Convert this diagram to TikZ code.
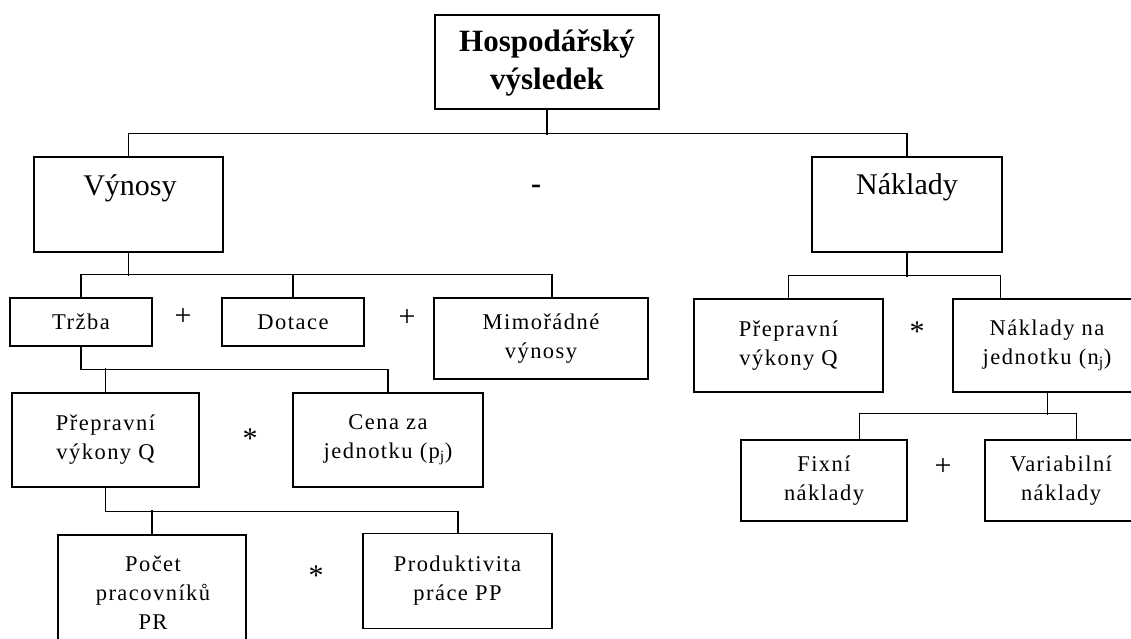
\documentclass[tikz,border=0pt]{standalone}
\usepackage{fontspec}
\setmainfont{Liberation Serif}
\newfontfamily\spacedf[LetterSpace=6.5]{Liberation Serif}
\begin{document}
\begin{tikzpicture}[x=1pt,y=-1pt,
  box/.style={draw=black,line width=1.2pt,inner sep=0pt,align=center,
    font=\spacedf\fontsize{22.5}{29}\selectfont},
  bigtext/.style={inner sep=0pt,font=\fontsize{30}{36}\selectfont},
  titletext/.style={inner sep=0pt,align=center,font=\bfseries\fontsize{31}{38}\selectfont},
  optext/.style={inner sep=0pt,font=\fontsize{30}{36}\selectfont},
  conn/.style={draw=black,line width=1.2pt}]
\clip (0,0) rectangle (1131,639);
\fill[white] (0,0) rectangle (1131,639);

% boxes
\node[box,minimum width=224pt,minimum height=94pt] (top) at (547,62) {};
\node[titletext] (topT) at (547,63) {Hospodářský\\výsledek};
\node[box,minimum width=189pt,minimum height=95pt] (vyn) at (128.5,204.5) {};
\node[bigtext] (vynT) at (130,188) {Výnosy};
\node[box,minimum width=190pt,minimum height=95pt] (nak) at (907,204.5) {};
\node[bigtext] (nakT) at (907,187) {Náklady};

\node[box,minimum width=142pt,minimum height=48pt] (trz) at (81,322) {Tržba};
\node[box,minimum width=142pt,minimum height=48pt] (dot) at (293,322) {Dotace};
\node[box,minimum width=214pt,minimum height=81pt] (mim) at (541,338.5) {Mimořádné\\výnosy};

\node[box,minimum width=187pt,minimum height=94pt] (prepL) at (105.5,440) {Přepravní\\výkony Q};
\node[box,minimum width=190pt,minimum height=94pt] (cena) at (388,440) {Cena za\\jednotku (p\textsubscript{j})};

\node[box,minimum width=188pt,minimum height=125pt] (pocet) at (152,597.5) {};
\node[inner sep=0pt,align=center,font=\spacedf\fontsize{22.5}{29}\selectfont] (pocetT) at (153,593) {Počet\\pracovníků\\PR};
\node[box,minimum width=189pt,minimum height=95pt] (prod) at (457.5,581) {Produktivita\\práce PP};

\node[box,minimum width=189pt,minimum height=93pt] (prepR) at (788.5,345.5) {Přepravní\\výkony Q};
\node[box,minimum width=188pt,minimum height=93pt] (nnj) at (1047,345.5) {Náklady na\\jednotku (n\textsubscript{j})};
\node[box,minimum width=166pt,minimum height=81pt] (fix) at (824,480.5) {Fixní\\náklady};
\node[box,minimum width=152pt,minimum height=81pt] (var) at (1061,480.5) {Variabilní\\náklady};

% operators
\node[optext,font=\bfseries\fontsize{30}{36}\selectfont] (minus) at (536,189) {-};
\node[optext] (plus1) at (183,317) {+};
\node[optext] (plus2) at (407,318) {+};
\node[optext] (star1) at (250,439) {*};
\node[optext] (star2) at (316,576) {*};
\node[optext] (star3) at (917,332) {*};
\node[optext] (plus3) at (943,467) {+};

% connectors
\draw[conn] (top.south) -- ++(0,25);
\draw[conn] (vyn.north) -- ++(0,-23) -| (nak.north);
\draw[conn] (vyn.south) -- ++(0,23);
\draw[conn] (trz.north) -- ++(0,-23) -| ([xshift=11pt]mim.north);
\draw[conn] (dot.north) -- ++(0,-23);
\draw[conn] (trz.south) -- ++(0,23) -| (cena.north);
\draw[conn] (prepL.north) -- ++(0,-24);
\draw[conn] (prepL.south) -- ++(0,24) -| ([xshift=0.5pt]prod.north);
\draw[conn] (pocet.north) -- ++(0,-24);
\draw[conn] (nak.south) -- ++(0,24);
\draw[conn] (prepR.north) -- ++(0,-23) -| ([xshift=48pt]nnj.north west);
\draw[conn] ([xshift=95pt]nnj.south west) -- ++(0,22);
\draw[conn] ([xshift=119pt]fix.north west) -- ++(0,-26) -| ([xshift=92pt]var.north west);
\end{tikzpicture}
\end{document}
